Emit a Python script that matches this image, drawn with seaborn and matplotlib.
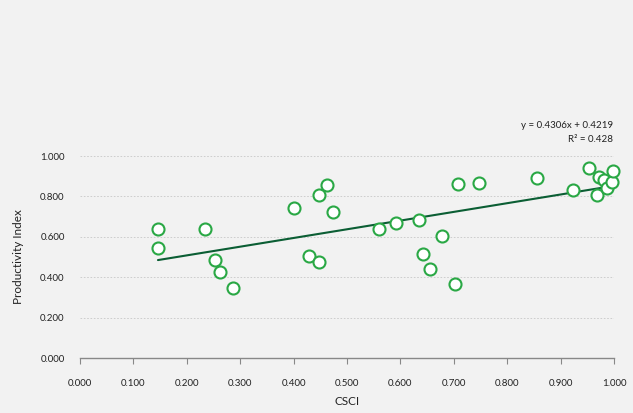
import matplotlib
matplotlib.use("Agg")
import matplotlib.pyplot as plt
import seaborn as sns
import numpy as np
import pandas as pd

csci = [0.146, 0.147, 0.235, 0.253, 0.262, 0.286, 0.400, 0.428, 0.448, 0.448,
        0.463, 0.473, 0.560, 0.591, 0.635, 0.642, 0.656, 0.678, 0.702, 0.707,
        0.748, 0.855, 0.923, 0.954, 0.971, 0.968, 0.981, 0.986, 0.997, 0.999]
prod_index = [0.637, 0.546, 0.637, 0.484, 0.427, 0.348, 0.743, 0.503, 0.475, 0.808,
              0.858, 0.723, 0.637, 0.668, 0.682, 0.513, 0.442, 0.602, 0.366, 0.859,
              0.864, 0.889, 0.830, 0.942, 0.896, 0.805, 0.880, 0.840, 0.871, 0.924]
slope = 0.4306
intercept = 0.4219
r2 = 0.428
x_ticks = [0.0, 0.1, 0.2, 0.3, 0.4, 0.5, 0.6, 0.7, 0.8, 0.9, 1.0]
y_ticks = [0.0, 0.2, 0.4, 0.6, 0.8, 1.0]

df = pd.DataFrame({"CSCI": csci, "Productivity Index": prod_index})

sns.set_style("white")
plt.rcParams['font.family'] = ['Lato', 'DejaVu Sans']

bg = "#f2f2f2"
fig = plt.figure(figsize=(6.33, 4.13), dpi=100, facecolor=bg)
ax = fig.add_axes([80/633, 55/413, 534/633, 202/413])
ax.set_facecolor(bg)

# trendline from stated coefficients over data range
xs = np.array([min(csci), max(csci)])
line_df = pd.DataFrame({"x": xs, "y": slope * xs + intercept})
sns.lineplot(data=line_df, x="x", y="y", ax=ax, color="#0b5e34", linewidth=1.5, zorder=2)

sns.scatterplot(data=df, x="CSCI", y="Productivity Index", ax=ax, s=75,
                facecolor="white", edgecolor="#2aa845", linewidth=1.5, zorder=3,
                clip_on=False)

ax.set_xlim(0, 1.0)
ax.set_ylim(0, 1.0)
ax.set_xticks(x_ticks)
ax.set_yticks(y_ticks)
ax.set_xticklabels([f"{v:.3f}" for v in x_ticks])
ax.set_yticklabels([f"{v:.3f}" for v in y_ticks])
ax.tick_params(axis="x", bottom=True, length=4, width=0.8, color="#888888", pad=11,
               labelsize=7, labelcolor="#222222", direction="out")
ax.tick_params(axis="y", left=False, length=0, pad=11, labelsize=7, labelcolor="#222222")

for side in ["top", "right", "left"]:
    ax.spines[side].set_visible(False)
ax.spines["bottom"].set_color("#888888")
ax.spines["bottom"].set_linewidth(1.0)

ax.yaxis.grid(True, color="#c8c8c8", linestyle=(0, (2, 2)), linewidth=0.6)
ax.set_axisbelow(True)

ax.set_xlabel("CSCI", fontsize=8.5, color="#222222", labelpad=6)
ax.set_ylabel("Productivity Index", fontsize=8.5, color="#222222", labelpad=12)

fig.text(613/633, 1 - 125/413, f"y = {slope:.4f}x + {intercept:.4f}", ha="right", va="center",
         fontsize=7, color="#222222")
fig.text(613/633, 1 - 139/413, f"R² = {r2:.3f}", ha="right", va="center",
         fontsize=7, color="#222222")

fig.savefig("out.png", dpi=100, facecolor=bg)
